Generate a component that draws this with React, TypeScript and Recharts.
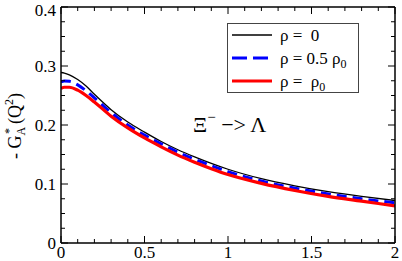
import React from 'react';
import { LineChart, Line, XAxis, YAxis, Customized } from 'recharts';

const qSquared = [0, 0.02, 0.05, 0.1, 0.15, 0.2, 0.3, 0.4, 0.5, 0.6, 0.7, 0.8, 0.9, 1.0, 1.2, 1.4, 1.6, 1.8, 2.0];
const rho0 = [0.289, 0.288, 0.285, 0.277, 0.266, 0.252, 0.226, 0.205, 0.188, 0.172, 0.158, 0.146, 0.135, 0.125, 0.109, 0.097, 0.087, 0.079, 0.072];
const rhoHalf = [0.273, 0.2745, 0.274, 0.268, 0.258, 0.246, 0.221, 0.2, 0.183, 0.168, 0.154, 0.142, 0.131, 0.121, 0.105, 0.093, 0.083, 0.075, 0.068];
const rhoFull = [0.262, 0.264, 0.264, 0.259, 0.25, 0.239, 0.215, 0.195, 0.178, 0.163, 0.149, 0.137, 0.126, 0.116, 0.101, 0.089, 0.079, 0.071, 0.063];

const xTicks = [0, 0.1, 0.2, 0.3, 0.4, 0.5, 0.6, 0.7, 0.8, 0.9, 1, 1.1, 1.2, 1.3, 1.4, 1.5, 1.6, 1.7, 1.8, 1.9, 2];
const xMajor = [0, 0.5, 1, 1.5, 2];
const yTicks = [0, 0.025, 0.05, 0.075, 0.1, 0.125, 0.15, 0.175, 0.2, 0.225, 0.25, 0.275, 0.3, 0.325, 0.35, 0.375, 0.4];
const yMajor = [0, 0.1, 0.2, 0.3, 0.4];
const legendLabels = ['ρ = \u00A00', 'ρ = 0.5 ρ', 'ρ = \u00A0ρ'];

const data = qSquared.map((q, i) => ({ x: q, a: rho0[i], b: rhoHalf[i], c: rhoFull[i] }));

const FONT = 'Liberation Serif';
const MAJ = 7;
const MIN = 4;

const isIn = (v: number, arr: number[]) => arr.some((m) => Math.abs(m - v) < 1e-9);

const BottomTick = (p: any) => {
  const { x, y, payload } = p;
  const major = isIn(payload.value, xMajor);
  return (
    <g>
      <line x1={x} x2={x} y1={y} y2={y - (major ? MAJ : MIN)} stroke="#000" strokeWidth={1} />
      {major && (
        <text x={x} y={y + 15} textAnchor="middle" fontFamily={FONT} fontSize={17} fill="#000">
          {String(payload.value)}
        </text>
      )}
    </g>
  );
};

const TopTick = (p: any) => {
  const { x, y, payload } = p;
  const major = isIn(payload.value, xMajor);
  return <line x1={x} x2={x} y1={y} y2={y + (major ? MAJ : MIN)} stroke="#000" strokeWidth={1} />;
};

const LeftTick = (p: any) => {
  const { x, y, payload } = p;
  const major = isIn(payload.value, yMajor);
  return (
    <g>
      <line x1={x} x2={x + (major ? MAJ : MIN)} y1={y} y2={y} stroke="#000" strokeWidth={1} />
      {major && (
        <text x={x - 5} y={Math.max(y + 6, 16)} textAnchor="end" fontFamily={FONT} fontSize={17} fill="#000">
          {String(payload.value)}
        </text>
      )}
    </g>
  );
};

const RightTick = (p: any) => {
  const { x, y, payload } = p;
  const major = isIn(payload.value, yMajor);
  return <line x1={x} x2={x - (major ? MAJ : MIN)} y1={y} y2={y} stroke="#000" strokeWidth={1} />;
};

const Annotations = () => (
  <g>
    <g transform="translate(227, 23)">
      <rect x={0.5} y={0.5} width={131} height={69} fill="#fff" stroke="#444" strokeWidth={1} />
      <line x1={5} x2={45} y1={12} y2={12} stroke="#000" strokeWidth={1.3} />
      <line x1={5} x2={45} y1={35} y2={35} stroke="#0000ff" strokeWidth={3} strokeDasharray="15 6" />
      <line x1={5} x2={45} y1={58} y2={58} stroke="#ff0000" strokeWidth={3} />
      <text x={53} y={18} fontFamily={FONT} fontSize={17} fill="#000">{legendLabels[0]}</text>
      <text x={53} y={41} fontFamily={FONT} fontSize={17} fill="#000">
        {legendLabels[1]}<tspan dy={4} fontSize={12}>0</tspan>
      </text>
      <text x={53} y={64} fontFamily={FONT} fontSize={17} fill="#000">
        {legendLabels[2]}<tspan dy={4} fontSize={12}>0</tspan>
      </text>
    </g>
    <text
      x={21}
      y={126}
      transform="rotate(-90, 21, 126)"
      textAnchor="middle"
      fontFamily={FONT}
      fontSize={18}
      fill="#000"
    >
      <tspan>-{'\u00A0'}G</tspan>
      <tspan dy={4} fontSize={12}>A</tspan>
      <tspan dy={-12} dx={-7} fontSize={12}>*</tspan>
      <tspan dy={8} dx={4}>(Q</tspan>
      <tspan dy={-8} fontSize={12}>2</tspan>
      <tspan dy={8}>)</tspan>
    </text>
    <text x={193} y={132} fontFamily={FONT} fontSize={22} fill="#000">
      Ξ<tspan dy={-10} fontSize={15}>−</tspan>
      <tspan dy={10}>{'\u00A0'}−&gt; Λ</tspan>
    </text>
  </g>
);

export default function App() {
  return (
    <div style={{ position: 'absolute', left: 0, top: 0, background: '#fff' }}>
      <LineChart width={402} height={261} data={data} margin={{ top: 6, right: 6, bottom: 0, left: 0 }}>
        <XAxis
          xAxisId="b"
          dataKey="x"
          type="number"
          domain={[0, 2]}
          allowDataOverflow
          ticks={xTicks}
          interval={0}
          height={18}
          tickSize={0}
          tickMargin={0}
          tick={<BottomTick />}
          axisLine={{ stroke: '#000', strokeWidth: 1.5 }}
          tickLine={false}
        />
        <XAxis
          xAxisId="t"
          orientation="top"
          dataKey="x"
          type="number"
          domain={[0, 2]}
          allowDataOverflow
          ticks={xTicks}
          interval={0}
          height={1}
          tickSize={0}
          tickMargin={0}
          tick={<TopTick />}
          axisLine={{ stroke: '#000', strokeWidth: 1.5 }}
          tickLine={false}
        />
        <YAxis
          yAxisId="l"
          type="number"
          domain={[0, 0.4]}
          allowDataOverflow
          ticks={yTicks}
          interval={0}
          width={61}
          tickSize={0}
          tickMargin={0}
          tick={<LeftTick />}
          axisLine={{ stroke: '#000', strokeWidth: 1.5 }}
          tickLine={false}
        />
        <YAxis
          yAxisId="r"
          orientation="right"
          type="number"
          domain={[0, 0.4]}
          allowDataOverflow
          ticks={yTicks}
          interval={0}
          width={1}
          tickSize={0}
          tickMargin={0}
          tick={<RightTick />}
          axisLine={{ stroke: '#000', strokeWidth: 1.5 }}
          tickLine={false}
        />
        <Line xAxisId="b" yAxisId="l" type="monotone" dataKey="a" stroke="#000" strokeWidth={1.3} dot={false} isAnimationActive={false} />
        <Line xAxisId="b" yAxisId="l" type="monotone" dataKey="b" stroke="#0000ff" strokeWidth={3} strokeDasharray="10 6" dot={false} isAnimationActive={false} />
        <Line xAxisId="b" yAxisId="l" type="monotone" dataKey="c" stroke="#ff0000" strokeWidth={3.2} dot={false} isAnimationActive={false} />
        <Customized component={Annotations} />
      </LineChart>
    </div>
  );
}
